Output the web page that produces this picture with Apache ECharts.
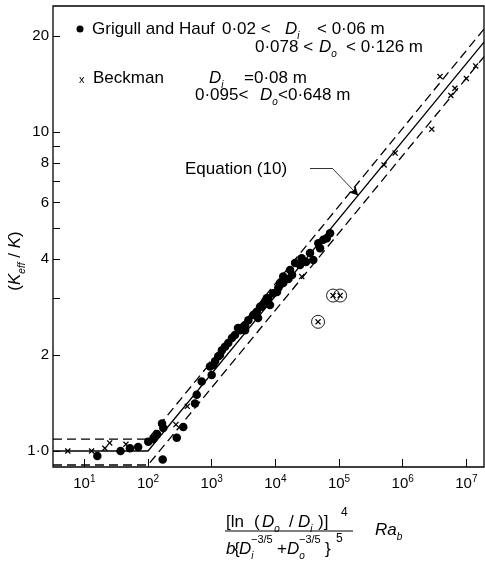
<!DOCTYPE html>
<html><head><meta charset="utf-8">
<script src="https://cdn.jsdelivr.net/npm/echarts@6/dist/echarts.min.js"></script>
<style>html,body{margin:0;padding:0;background:#fff}#c{width:485px;height:563px}</style>
</head><body><div id="c"></div>
<script>
// axis ticks / labels
const xTickValues = [10, 100, 1000, 10000, 100000, 1000000, 10000000];
const yTickValues = [1, 2, 3, 4, 5, 6, 7, 8, 9, 10, 20];
const yLabelValues = [1, 2, 4, 6, 8, 10, 20];
const xRange = [3.22, 1.89e7];
const yRange = [0.891, 24.8];

// Grigull and Hauf (filled circles)
const grigullHauf = [
  [16, 0.965], [37, 1.0], [52, 1.02], [70, 1.03], [101, 1.07], [121, 1.09], [138, 1.13],
  [166, 1.22], [174, 1.18], [170, 0.94], [283, 1.10], [358, 1.19], [547, 1.41], [582, 1.50],
  [697, 1.65], [1000, 1.73], [940, 1.84], [1060, 1.86], [1130, 1.91], [1270, 1.98], [1350, 2.0],
  [1450, 2.07], [1620, 2.12], [1820, 2.18], [2080, 2.26], [2320, 2.31], [2590, 2.43], [2790, 2.39],
  [3140, 2.45], [3340, 2.39], [3340, 2.48], [3760, 2.57], [4510, 2.67], [5100, 2.73], [5350, 2.61],
  [5740, 2.83], [6110, 2.83], [6880, 2.94], [7310, 3.01], [7750, 3.01], [8240, 2.87], [9290, 3.12],
  [10600, 3.15], [11100, 3.24], [11800, 3.36], [13300, 3.36], [13300, 3.52], [16000, 3.46],
  [17000, 3.69], [18300, 3.56], [20400, 3.88], [24400, 3.83], [25900, 4.02], [30300, 3.91],
  [35000, 4.17], [39400, 3.97], [47300, 4.48], [50300, 4.32], [56600, 4.59], [64100, 4.64],
  [72200, 4.81]
];
// Beckman (crosses)
const beckman = [
  [5.5, 1.0], [13, 1.0], [21, 1.02], [25, 1.06], [45, 1.05], [275, 1.21], [414, 1.38],
  [1000, 1.87], [26000, 3.52], [5.1e5, 7.88], [7.6e5, 8.58], [2.86e6, 10.2], [3.85e6, 14.9],
  [5.7e6, 13.0], [6.6e6, 13.7], [1.0e7, 14.7], [1.4e7, 16.1]
];
// Beckman points shown circled
const beckmanCircled = [[46800, 2.54], [80500, 3.07], [104000, 3.07]];

// Equation (10) and +/-10% band
const eqSolid = [[3.22, 1.0], [100, 1.0], [1.89e7, 19.1]];
const eqUpper = [[3.22, 1.09], [100, 1.09], [1.89e7, 21.0]];
const eqLower = [[3.22, 0.904], [100, 0.904], [1.89e7, 17.2]];
// leader of the "Equation (10)" label
const eqLeader = [[35000, 7.71], [77600, 7.71], [200000, 6.32]];

const FONT = 'Liberation Sans';
const crossPath = 'path://M0,1.5L1.5,0L5,3.5L8.5,0L10,1.5L6.5,5L10,8.5L8.5,10L5,6.5L1.5,10L0,8.5L3.5,5Z';

const richBase = {
  i: { fontStyle: 'italic', fontFamily: FONT, fontSize: 17, lineHeight: 24 },
  sub: { fontStyle: 'italic', fontFamily: FONT, fontSize: 10, lineHeight: 12, verticalAlign: 'bottom' },
  sup: { fontFamily: FONT, fontSize: 11, lineHeight: 12, verticalAlign: 'top' }
};
function txt(x, y, text, size, italic) {
  return {
    type: 'text', x: x, y: y, silent: true,
    style: { text: text, fill: '#000', fontFamily: FONT, fontSize: size || 17, lineHeight: 24,
      fontStyle: italic ? 'italic' : 'normal',
      align: 'left', verticalAlign: 'middle', rich: richBase }
  };
}

const chart = echarts.init(document.getElementById('c'), null, { renderer: 'canvas' });
const option = {
  animation: false,
  backgroundColor: '#fff',
  grid: { left: 53, right: 1, top: 6, bottom: 96, show: true, borderColor: '#000', borderWidth: 1.3 },
  xAxis: {
    type: 'log', logBase: 10, min: xRange[0], max: xRange[1],
    axisLine: { show: false },
    splitLine: { show: false },
    axisTick: { show: true, inside: true, length: 8, customValues: xTickValues, lineStyle: { color: '#000', width: 1 } },
    axisLabel: {
      customValues: xTickValues, margin: 7, color: '#000',
      formatter: function (v) { return '{b|10}{s|' + Math.round(Math.log10(v)) + '}'; },
      rich: {
        b: { fontFamily: FONT, fontSize: 15, lineHeight: 20, color: '#000' },
        s: { fontFamily: FONT, fontSize: 10, lineHeight: 10, verticalAlign: 'top', color: '#000' }
      }
    }
  },
  yAxis: {
    type: 'log', logBase: 10, min: yRange[0], max: yRange[1],
    axisLine: { show: false },
    splitLine: { show: false },
    axisTick: { show: true, inside: true, length: 7, customValues: yTickValues, lineStyle: { color: '#000', width: 1 } },
    axisLabel: {
      customValues: yLabelValues, margin: 4, color: '#000', fontFamily: FONT, fontSize: 15,
      formatter: function (v) { return v === 1 ? '1·0' : String(v); }
    }
  },
  series: [
    { type: 'line', data: eqSolid, symbol: 'none', silent: true, z: 2,
      lineStyle: { color: '#000', width: 1.3 },
      markLine: {
        silent: true, symbol: ['none', 'none'], label: { show: false },
        lineStyle: { color: '#000', width: 0.8, type: 'solid' },
        data: [
          [{ coord: eqLeader[0] }, { coord: eqLeader[1] }],
          [{ coord: eqLeader[1], symbol: 'none' }, { coord: eqLeader[2], symbol: 'arrow', symbolSize: [7, 9] }]
        ]
      }
    },
    { type: 'line', data: eqUpper, symbol: 'none', silent: true, z: 2,
      lineStyle: { color: '#000', width: 1.3, type: [9, 5] } },
    { type: 'line', data: eqLower, symbol: 'none', silent: true, z: 2,
      lineStyle: { color: '#000', width: 1.3, type: [9, 5] } },
    { type: 'scatter', name: 'Grigull and Hauf', data: grigullHauf, symbol: 'circle', symbolSize: 8.5, z: 3,
      itemStyle: { color: '#000', opacity: 1 } },
    { type: 'scatter', name: 'Beckman', data: beckman, symbol: crossPath, symbolSize: 6, z: 4,
      itemStyle: { color: '#000', opacity: 1 } },
    { type: 'scatter', name: 'Beckman circled', data: beckmanCircled, symbol: crossPath, symbolSize: 6, z: 4,
      itemStyle: { color: '#000', opacity: 1 } },
    { type: 'scatter', name: 'circles', data: beckmanCircled, symbol: 'circle', symbolSize: 13, z: 4,
      itemStyle: { color: 'rgba(0,0,0,0)', borderColor: '#000', borderWidth: 0.9, opacity: 1 } }
  ],
  graphic: [
    // legend block
    { type: 'circle', shape: { cx: 80, cy: 29, r: 3.5 }, style: { fill: '#000' }, silent: true },
    txt(92, 29, 'Grigull and Hauf'),
    txt(222, 29, '0·02 <'),
    txt(285, 29, '{i|D}{sub|i}'),
    txt(317, 29, '< 0·06 m'),
    txt(255, 47, '0·078 <'),
    txt(319, 47, '{i|D}{sub|o}'),
    txt(346, 47, '< 0·126 m'),
    txt(79, 80, 'x', 11),
    txt(93, 78, 'Beckman'),
    txt(209, 78, '{i|D}{sub|i}'),
    txt(244, 78, '=0·08 m'),
    txt(195, 95, '0·095<'),
    txt(260, 95, '{i|D}{sub|o}'),
    txt(278, 95, '<0·648 m'),
    // annotation
    txt(185, 169, 'Equation (10)'),
    // y axis title
    { type: 'text', x: 15, y: 261, rotation: Math.PI / 2, silent: true,
      style: { text: '({i|K}{sub|eff} / {i|K})', fill: '#000', fontFamily: FONT, fontSize: 17, lineHeight: 24,
        align: 'center', verticalAlign: 'middle', rich: richBase } },
    // x axis title (formula), numerator
    txt(226, 522, '[ln'),
    txt(254, 522, '('),
    txt(262, 522, '{i|D}{sub|o}'),
    txt(289, 522, '/'),
    txt(298, 522, '{i|D}{sub|i}'),
    txt(318, 522, ')]'),
    txt(341, 513, '4', 12),
    { type: 'line', shape: { x1: 225, y1: 531, x2: 353, y2: 531 }, style: { stroke: '#000', lineWidth: 1 }, silent: true },
    // denominator
    txt(226, 549, 'b', 17, true),
    txt(234, 549, '\u007B'),
    txt(239, 549, '{i|D}{sub|i}'),
    txt(251, 540, '−3/5', 11),
    txt(277, 549, '+'),
    txt(287, 549, '{i|D}{sub|o}'),
    txt(299, 540, '−3/5', 11),
    txt(325, 549, '\u007D'),
    txt(336, 539, '5', 12),
    txt(375, 530, '{i|Ra}{sub|b}', 18)
  ]
};
chart.setOption(option);
</script>
</body></html>
